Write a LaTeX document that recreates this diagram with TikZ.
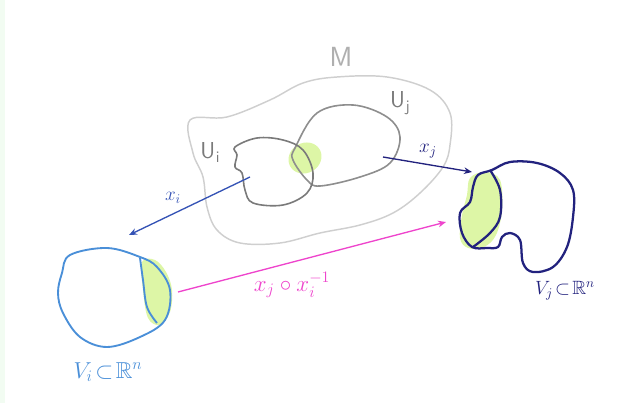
\documentclass[tikz,border=0pt]{standalone}
\usepackage{amssymb}
\usetikzlibrary{arrows.meta}
\definecolor{mgray}{HTML}{CFCFCF}
\definecolor{ugray}{HTML}{7A7A7A}
\definecolor{patch}{HTML}{DDF6A6}
\definecolor{vblue}{HTML}{4A8FD8}
\definecolor{navy}{HTML}{22227E}
\definecolor{xblue}{HTML}{3553B5}
\definecolor{pinkc}{HTML}{EE44CC}
\definecolor{strip}{HTML}{F2FCF2}
\tikzset{
  blob/.style={line width=#1, line join=round},
  arr/.style={line width=1pt, -{Stealth[length=6pt,width=5pt]}},
  lab/.style={inner sep=0pt, font=\LARGE},
}
\begin{document}
\begin{tikzpicture}[x=0.75pt,y=-0.75pt]
\useasboundingbox (0,0) rectangle (627,403);
\fill[strip] (0,0) rectangle (5,403);
% M
\draw[mgray, blob=1.1pt] plot[smooth cycle, tension=0.6] coordinates {
 (190,120) (227,117) (270,100) (303,83) (337,77) (387,77) (430,90) (450,113)
 (450,145) (443,167) (420,193) (393,213) (360,225) (320,233) (280,243) (240,243)
 (217,230) (207,207) (203,177) (193,153)};
% green patch on overlap
\fill[patch, rotate around={30:(305,158)}] (305,158) ellipse (17 and 15);
% Uj
\draw[ugray!85, blob=1.2pt] plot[smooth cycle, tension=0.6] coordinates {
 (295,148) (317,113) (353,105) (387,117) (400,137) (390,163) (360,177) (320,186) (307,180) (293,160)};
% Ui
\draw[ugray, blob=1.2pt] plot[smooth cycle, tension=0.6] coordinates {
 (235,147) (257,138) (283,140) (303,150) (313,173) (307,193) (283,205) (253,203)
 (245,190) (242,173) (235,167) (237,155)};
\node[ugray!60, lab, font=\huge\sffamily] (M) at (341,57) {M};
\node[ugray, lab, font=\LARGE\sffamily] (Ui) at (210,153) {U\kern0.5pt\raisebox{-3pt}{\large i}};
\node[ugray, lab, font=\LARGE\sffamily] (Uj) at (400,103) {U\kern0.5pt\raisebox{-3pt}{\large j}};
% Vi
\fill[patch] plot[smooth cycle, tension=0.6] coordinates {
 (142,262) (155,260) (166,272) (172,290) (170,312) (160,325) (148,318) (143,290)};
\draw[vblue, blob=1.4pt] plot[smooth cycle, tension=0.6] coordinates {
 (70,255) (107,248) (140,257) (157,267) (170,290) (165,320) (140,337) (107,347)
 (80,337) (63,313) (58,293) (62,273)};
\draw[vblue, blob=1.4pt] plot[smooth, tension=0.6] coordinates {
 (140,258) (143,280) (147,307) (157,323)};
\node[vblue, lab] (Vi) at (108,372) {$V_i\!\subset\!\mathbb{R}^n$};
% Vj
\fill[patch] plot[smooth cycle, tension=0.6] coordinates {
 (470,178) (485,172) (500,180) (502,210) (496,235) (484,247) (468,248) (460,238)
 (462,215) (467,195)};
\draw[navy, blob=1.7pt] plot[smooth cycle, tension=0.6] coordinates {
 (492,170) (510,162) (537,163) (560,173) (573,190) (573,217) (567,247) (553,267)
 (533,272) (523,263) (520,240) (510,233) (502,237) (498,247) (487,248) (472,247)
 (462,233) (460,213) (470,202) (473,187) (478,175)};
\draw[navy, blob=1.7pt] plot[smooth, tension=0.6] coordinates {
 (490,170) (500,190) (500,217) (490,233) (473,247)};
\node[navy, lab, font=\Large] (Vj) at (565,291) {$V_j\!\subset\!\mathbb{R}^n$};
% arrows
\coordinate (xis) at (250,177);
\coordinate (xie) at (129,235);
\draw[xblue, arr] (xis) -- (xie);
\node[xblue, lab, font=\Large] (xil) at (173,198) {$x_i$};
\coordinate (xjs) at (383,157);
\coordinate (xje) at (472,172);
\draw[navy, arr] (xjs) -- (xje);
\node[navy, lab, font=\Large] (xjl) at (428,151) {$x_j$};
\coordinate (ps) at (178,292);
\coordinate (pe) at (446,222);
\draw[pinkc, arr] (ps) -- (pe);
\node[pinkc, lab] (pl) at (292,285) {$x_j\circ x_i^{-1}$};
\end{tikzpicture}
\end{document}
